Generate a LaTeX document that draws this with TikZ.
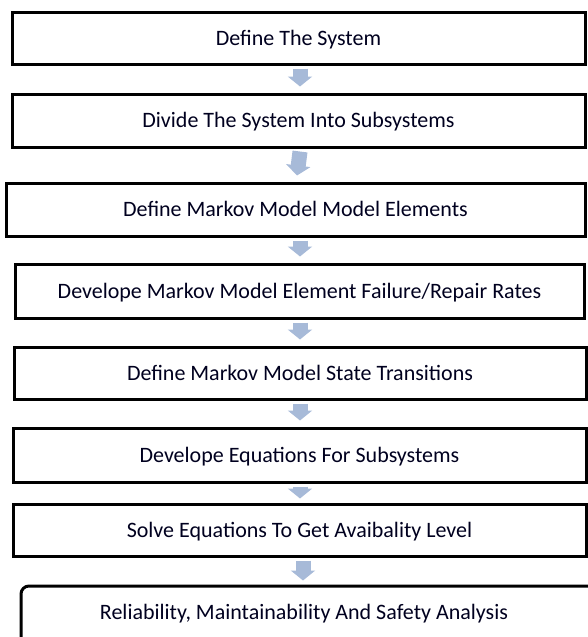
\documentclass[tikz,border=0pt]{standalone}
\usepackage{fontspec}
\setmainfont{Carlito}
\usetikzlibrary{arrows.meta}
\definecolor{arrowblue}{HTML}{A7BAD8}
\tikzset{
  x=1pt, y=-1pt,
  steplabel/.style={font=\fontsize{22}{26}\selectfont, text=black!88!blue,
    text height=14pt, text depth=0pt},
  stepbox/.style={steplabel, draw=black, line width=3pt, fill=white, inner sep=0pt},
  blockarrow/.style={draw=arrowblue, line width=15pt,
    -{Triangle[width=24pt,length=10pt]}}
}
\begin{document}
\begin{tikzpicture}
\useasboundingbox (0,0) rectangle (588,637);
% step boxes
\node[stepbox, minimum width=573pt, minimum height=52pt] (b1) at (298.5,38) {Define The System};
\node[stepbox, minimum width=573pt, minimum height=53pt] (b2) at (298.5,120.5) {Divide The System Into Subsystems};
\node[stepbox, minimum width=579pt, minimum height=53pt] (b3) at (295.5,209.5) {Define Markov Model Model Elements};
\node[stepbox, minimum width=569pt, minimum height=54pt] (b4) at (299.5,291) {Develope Markov Model Element Failure/Repair Rates};
\node[stepbox, minimum width=572pt, minimum height=52pt] (b5) at (300,373) {Define Markov Model State Transitions};
\node[stepbox, minimum width=573pt, minimum height=54pt] (b6) at (299.5,455) {Develope Equations For Subsystems};
\node[stepbox, minimum width=573pt, minimum height=52pt] (b7) at (299.5,530) {Solve Equations To Get Avaibality Level};
\node[stepbox, rounded corners=8pt, minimum width=579pt, minimum height=64pt] (b8) at (310.5,618) {};
\node[steplabel] (t8) at (304,612) {Reliability, Maintainability And Safety Analysis};
% block arrows between consecutive steps
\draw[blockarrow] ([xshift=1.5pt,yshift=-3pt]b1.south) -- ([xshift=1.5pt,yshift=6pt]b2.north);
\draw[blockarrow] ([xshift=1.5pt,yshift=-3pt]b2.south) -- ([xshift=1.5pt,yshift=6pt]b3.north);
\draw[blockarrow] ([xshift=4.5pt,yshift=-3pt]b3.south) -- ([xshift=0.5pt,yshift=6pt]b4.north);
\draw[blockarrow] ([xshift=0.5pt,yshift=-3pt]b4.south) -- ([xshift=0pt,yshift=6pt]b5.north);
\draw[blockarrow] ([xshift=0pt,yshift=-3pt]b5.south) -- ([xshift=0.5pt,yshift=6pt]b6.north);
\draw[blockarrow] ([xshift=0.5pt,yshift=-3pt]b6.south) -- ([xshift=0.5pt,yshift=4pt]b7.north);
\draw[blockarrow] ([xshift=3.5pt,yshift=-3pt]b7.south) -- ([xshift=-7.5pt,yshift=4pt]b8.north);
\end{tikzpicture}
\end{document}
